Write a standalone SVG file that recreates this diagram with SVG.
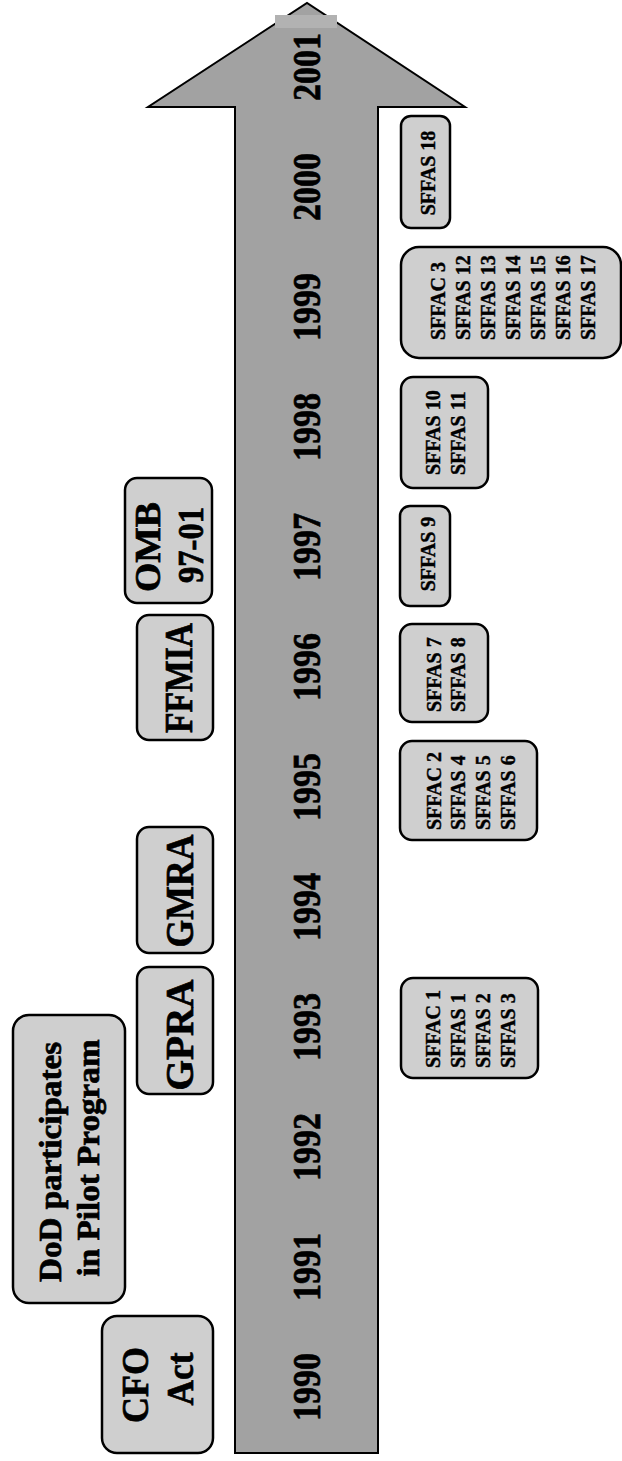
<svg xmlns="http://www.w3.org/2000/svg" width="622" height="1461" viewBox="0 0 622 1461">
<style>
.box{fill:#cfcfcf;stroke:#000;stroke-width:2.5}
.arrow{fill:#a2a2a2;stroke:#000;stroke-width:2;stroke-linejoin:miter}
.t{font-family:"Liberation Serif","Times New Roman",serif;font-weight:bold;fill:#000;stroke:#000;stroke-width:0.7}
.yr{font-size:40px;text-anchor:middle}
.big{font-size:40px;text-anchor:middle}
.sm{font-size:20px;stroke-width:0.4}
</style>
<rect width="622" height="1461" fill="#fff"/>
<g id="timeline">
<polygon class="arrow" points="235,1453 235,107 148,107 307,3 465,107 378,107 378,1453"/>
<rect x="275" y="15" width="62" height="13" fill="#b2b2b2"/>
<text class="t yr" transform="translate(320,1387) rotate(-90)" textLength="68" lengthAdjust="spacingAndGlyphs">1990</text>
<text class="t yr" transform="translate(320,1267) rotate(-90)" textLength="68" lengthAdjust="spacingAndGlyphs">1991</text>
<text class="t yr" transform="translate(320,1147) rotate(-90)" textLength="68" lengthAdjust="spacingAndGlyphs">1992</text>
<text class="t yr" transform="translate(320,1027) rotate(-90)" textLength="68" lengthAdjust="spacingAndGlyphs">1993</text>
<text class="t yr" transform="translate(320,907) rotate(-90)" textLength="68" lengthAdjust="spacingAndGlyphs">1994</text>
<text class="t yr" transform="translate(320,787) rotate(-90)" textLength="68" lengthAdjust="spacingAndGlyphs">1995</text>
<text class="t yr" transform="translate(320,667) rotate(-90)" textLength="68" lengthAdjust="spacingAndGlyphs">1996</text>
<text class="t yr" transform="translate(320,547) rotate(-90)" textLength="68" lengthAdjust="spacingAndGlyphs">1997</text>
<text class="t yr" transform="translate(320,427) rotate(-90)" textLength="68" lengthAdjust="spacingAndGlyphs">1998</text>
<text class="t yr" transform="translate(320,307) rotate(-90)" textLength="68" lengthAdjust="spacingAndGlyphs">1999</text>
<text class="t yr" transform="translate(320,187) rotate(-90)" textLength="68" lengthAdjust="spacingAndGlyphs">2000</text>
<text class="t yr" transform="translate(320,67) rotate(-90)" textLength="68" lengthAdjust="spacingAndGlyphs">2001</text>
</g>
<g id="connectors"></g>
<g id="cfo-act">
<rect class="box" x="102" y="1316" width="111" height="137" rx="15"/>
<text class="t big" style="font-size:38px" transform="translate(148,1385) rotate(-90)" textLength="76" lengthAdjust="spacingAndGlyphs">CFO</text>
<text class="t big" style="font-size:38px" transform="translate(193,1379) rotate(-90)" textLength="53" lengthAdjust="spacingAndGlyphs">Act</text>
</g>
<g id="dod-pilot">
<rect class="box" x="13" y="1015" width="112" height="288" rx="16"/>
<text class="t big" style="font-size:32px" transform="translate(61,1162) rotate(-90)" textLength="240" lengthAdjust="spacingAndGlyphs">DoD participates</text>
<text class="t big" style="font-size:32px" transform="translate(99,1158) rotate(-90)" textLength="237" lengthAdjust="spacingAndGlyphs">in Pilot Program</text>
</g>
<g id="gpra">
<rect class="box" x="137" y="967" width="76" height="127" rx="12"/>
<text class="t big" transform="translate(193,1035) rotate(-90)" textLength="111" lengthAdjust="spacingAndGlyphs">GPRA</text>
</g>
<g id="gmra">
<rect class="box" x="137" y="827" width="76" height="126" rx="12"/>
<text class="t big" transform="translate(193,891) rotate(-90)" textLength="113" lengthAdjust="spacingAndGlyphs">GMRA</text>
</g>
<g id="ffmia">
<rect class="box" x="137" y="615" width="76" height="125" rx="12"/>
<text class="t big" transform="translate(192,678) rotate(-90)" textLength="110" lengthAdjust="spacingAndGlyphs">FFMIA</text>
</g>
<g id="omb">
<rect class="box" x="125" y="478" width="87" height="125" rx="12"/>
<text class="t big" style="font-size:36px" transform="translate(160,547) rotate(-90)" textLength="90" lengthAdjust="spacingAndGlyphs">OMB</text>
<text class="t big" style="font-size:36px" transform="translate(203,545) rotate(-90)" textLength="76" lengthAdjust="spacingAndGlyphs">97-01</text>
</g>
<g id="sffas18">
<rect class="box" x="401" y="116" width="49" height="112" rx="10"/>
<text class="t sm" text-anchor="middle" transform="translate(435,173) rotate(-90)">SFFAS 18</text>
</g>
<g id="sffac3">
<rect class="box" x="401" y="247" width="220" height="111" rx="18"/>
<text class="t sm" transform="translate(445,340) rotate(-90)">SFFAC 3</text>
<text class="t sm" transform="translate(470,340) rotate(-90)">SFFAS 12</text>
<text class="t sm" transform="translate(495,340) rotate(-90)">SFFAS 13</text>
<text class="t sm" transform="translate(520,340) rotate(-90)">SFFAS 14</text>
<text class="t sm" transform="translate(545,340) rotate(-90)">SFFAS 15</text>
<text class="t sm" transform="translate(570,340) rotate(-90)">SFFAS 16</text>
<text class="t sm" transform="translate(595,340) rotate(-90)">SFFAS 17</text>
</g>
<g id="sffas10">
<rect class="box" x="401" y="377" width="87" height="111" rx="12"/>
<text class="t sm" transform="translate(440,475) rotate(-90)">SFFAS 10</text>
<text class="t sm" transform="translate(465,475) rotate(-90)">SFFAS 11</text>
</g>
<g id="sffas9">
<rect class="box" x="400" y="506" width="50" height="100" rx="10"/>
<text class="t sm" text-anchor="middle" transform="translate(435,554) rotate(-90)">SFFAS 9</text>
</g>
<g id="sffas7">
<rect class="box" x="400" y="624" width="88" height="98" rx="12"/>
<text class="t sm" transform="translate(441,712) rotate(-90)">SFFAS 7</text>
<text class="t sm" transform="translate(465,712) rotate(-90)">SFFAS 8</text>
</g>
<g id="sffac2">
<rect class="box" x="400" y="741" width="137" height="99" rx="12"/>
<text class="t sm" transform="translate(441,830) rotate(-90)">SFFAC 2</text>
<text class="t sm" transform="translate(465,830) rotate(-90)">SFFAS 4</text>
<text class="t sm" transform="translate(490,830) rotate(-90)">SFFAS 5</text>
<text class="t sm" transform="translate(515,830) rotate(-90)">SFFAS 6</text>
</g>
<g id="sffac1">
<rect class="box" x="401" y="978" width="137" height="100" rx="12"/>
<text class="t sm" transform="translate(440,1068) rotate(-90)">SFFAC 1</text>
<text class="t sm" transform="translate(465,1068) rotate(-90)">SFFAS 1</text>
<text class="t sm" transform="translate(490,1068) rotate(-90)">SFFAS 2</text>
<text class="t sm" transform="translate(515,1068) rotate(-90)">SFFAS 3</text>
</g>
</svg>
